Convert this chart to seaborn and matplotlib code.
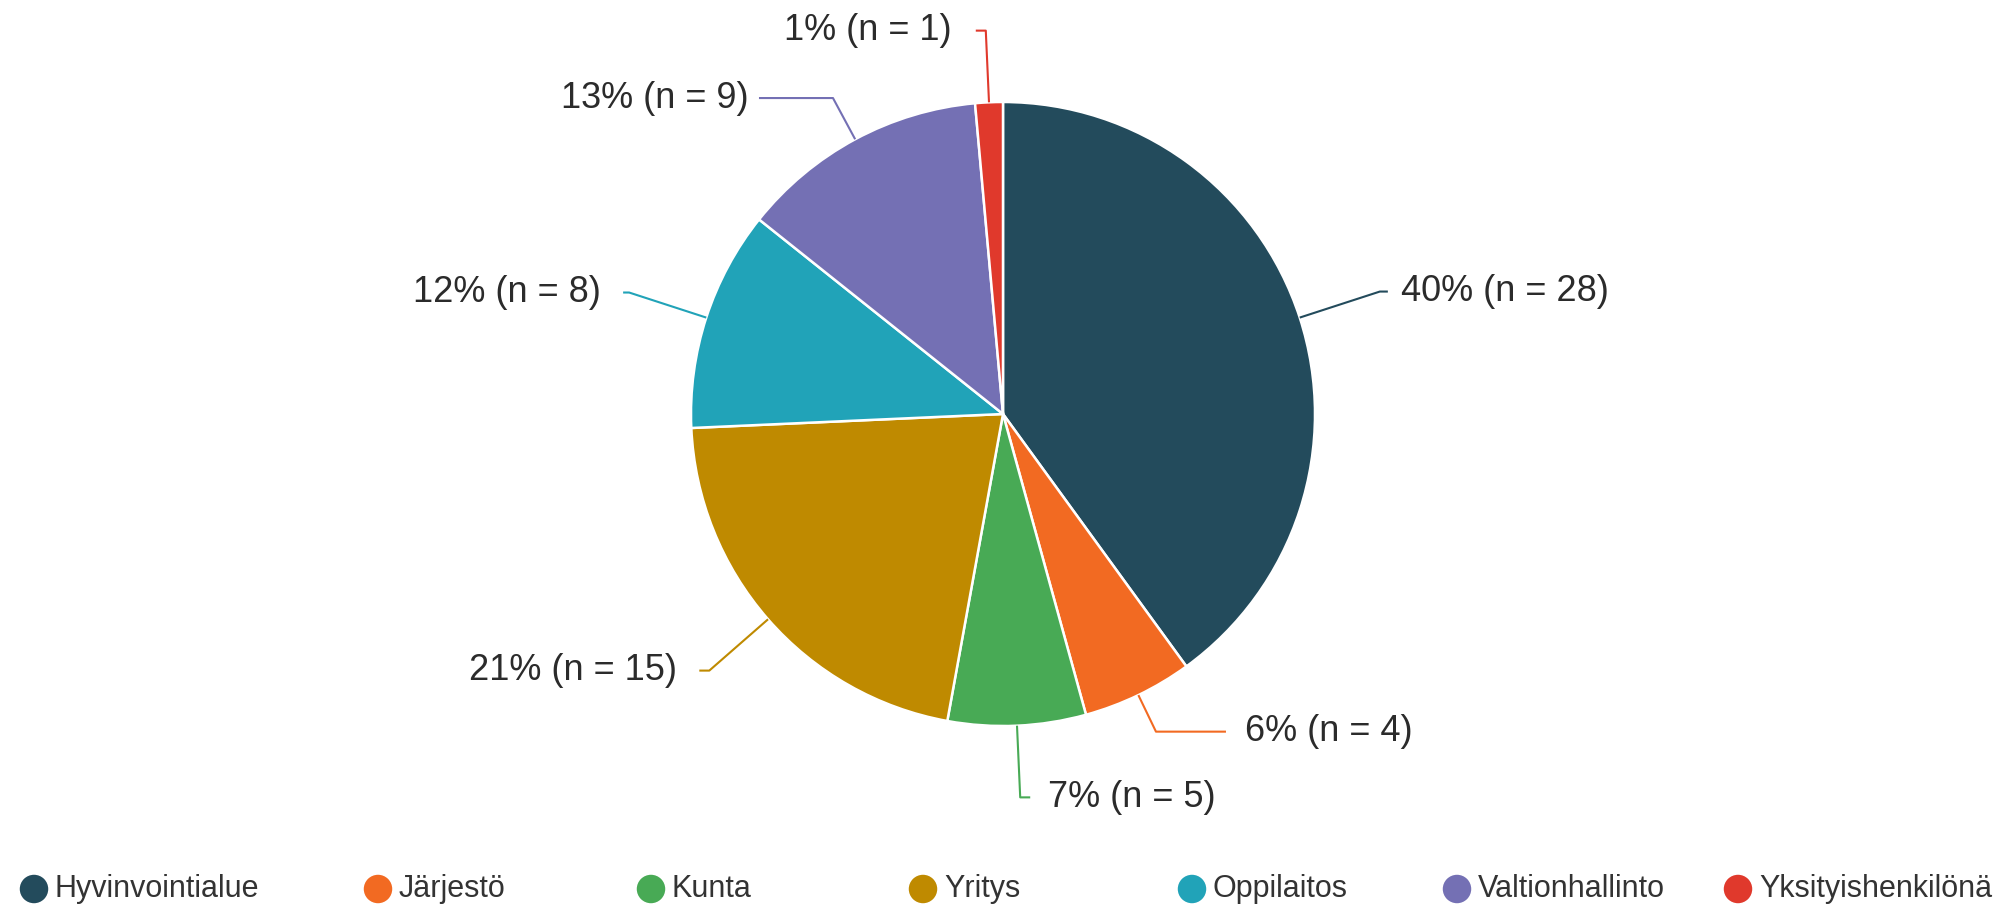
import numpy as np
import matplotlib
matplotlib.use("Agg")
import matplotlib.pyplot as plt
import seaborn as sns

# ---- data ----
categories = ["Hyvinvointialue", "Järjestö", "Kunta", "Yritys", "Oppilaitos",
              "Valtionhallinto", "Yksityishenkilönä"]
counts = [28, 4, 5, 15, 8, 9, 1]
percent_labels = ["40%", "6%", "7%", "21%", "12%", "13%", "1%"]
colors = ["#234b5c", "#f26a22", "#48aa55", "#bf8a00", "#21a3b8", "#7470b4", "#e0392c"]

# ---- layout (pixels) ----
W, H = 1997, 911
CX, CY, R = 1003, 414, 312
elbow_factor = [1.27, 1.13, 1.23, 1.25, 1.26, 1.15, 1.23]
hline_len = [8, 70, 10, 10, 6, 74, 10]
text_gap = [13, 19, 18, 22, 22, 10, 24]
legend_x = [34, 378, 651, 923, 1192, 1457, 1738]
legend_y = 889

sns.set_theme(style="white")
plt.rcParams["font.family"] = ["Liberation Sans", "DejaVu Sans"]

fig = plt.figure(figsize=(W / 100, H / 100), dpi=100)
ax = fig.add_axes([0, 0, 1, 1])

ax.pie(counts, colors=colors, startangle=90, counterclock=False,
       center=(CX, H - CY), radius=R, frame=True,
       wedgeprops=dict(edgecolor="white", linewidth=1.8))
ax.set_xlim(0, W)
ax.set_ylim(0, H)
ax.set_aspect("equal")
ax.axis("off")

total = sum(counts)
cum = 0.0
for i, (c, p) in enumerate(zip(counts, percent_labels)):
    frac = c / total
    mid = 90 - (cum + frac / 2) * 360
    cum += frac
    t = np.deg2rad(mid)
    ux, uy = np.cos(t), np.sin(t)
    x0, y0 = CX + R * ux, (H - CY) + R * uy
    x1, y1 = CX + R * elbow_factor[i] * ux, (H - CY) + R * elbow_factor[i] * uy
    side = 1 if ux >= 0 else -1
    x2 = x1 + side * hline_len[i]
    ax.plot([x0, x1, x2], [y0, y1, y1], color=colors[i], lw=1.5,
            solid_capstyle="butt", zorder=1)
    ax.text(x2 + side * text_gap[i], y1, f"{p} (n = {c})",
            ha="left" if side > 0 else "right", va="center",
            fontsize=26, color="#2b2b2b")

# legend
for i, cat in enumerate(categories):
    ax.scatter([legend_x[i]], [H - legend_y], s=420, color=colors[i],
               edgecolor="none", zorder=3)
    ax.text(legend_x[i] + 21, H - legend_y, cat, ha="left", va="center",
            fontsize=22, color="#333333")

fig.savefig("out.png", dpi=100)
